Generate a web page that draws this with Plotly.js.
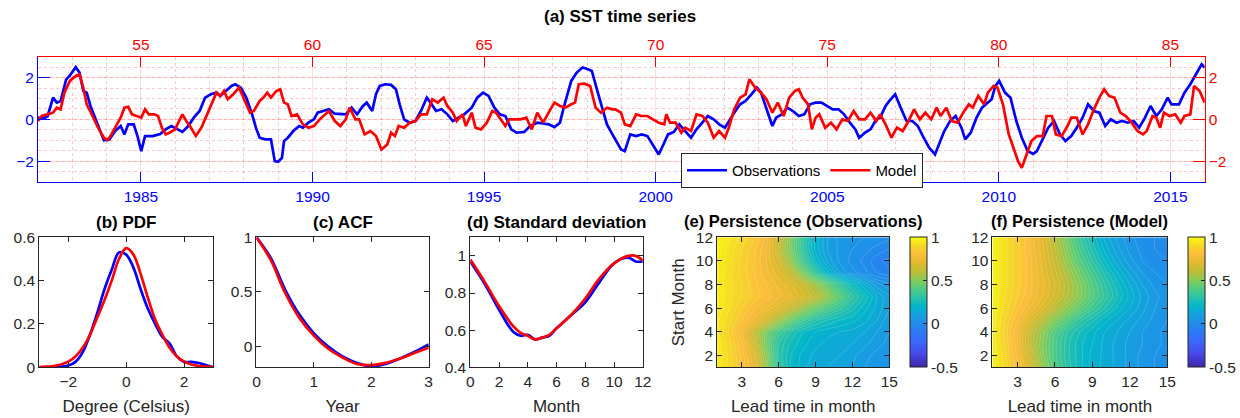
<!DOCTYPE html>
<html>
<head>
<meta charset="utf-8">
<script src="https://cdn.plot.ly/plotly-3.0.1.min.js"></script>
<style>html,body{margin:0;padding:0;background:#fff;}#chart{width:1240px;height:418px;}</style>
</head>
<body>
<div id="chart"></div>
<script>
// ---------- (a) SST time series ----------
const obsYear = [1982.00,1982.17,1982.28,1982.44,1982.55,1982.66,1982.82,1982.93,1983.10,1983.21,1983.32,1983.42,1983.53,1983.70,1983.81,1983.92,1984.08,1984.25,1984.41,1984.52,1984.63,1984.79,1984.90,1985.01,1985.12,1985.34,1985.56,1985.72,1985.89,1986.05,1986.21,1986.38,1986.54,1986.71,1986.87,1987.04,1987.20,1987.31,1987.47,1987.64,1987.75,1987.91,1988.07,1988.24,1988.35,1988.46,1988.62,1988.79,1988.90,1989.00,1989.11,1989.17,1989.28,1989.44,1989.61,1989.72,1989.88,1990.04,1990.15,1990.32,1990.48,1990.65,1990.81,1990.97,1991.14,1991.30,1991.47,1991.58,1991.74,1991.85,1991.96,1992.12,1992.29,1992.43,1992.54,1992.67,1992.83,1993.00,1993.16,1993.33,1993.44,1993.60,1993.76,1993.93,1994.09,1994.26,1994.42,1994.64,1994.80,1994.97,1995.13,1995.30,1995.46,1995.62,1995.79,1995.95,1996.17,1996.34,1996.55,1996.72,1996.88,1997.05,1997.21,1997.32,1997.43,1997.54,1997.70,1997.87,1998.03,1998.14,1998.30,1998.41,1998.58,1998.74,1998.82,1998.99,1999.10,1999.26,1999.43,1999.59,1999.76,1999.92,2000.09,2000.25,2000.36,2000.53,2000.69,2000.86,2001.03,2001.19,2001.36,2001.52,2001.69,2001.85,2002.02,2002.13,2002.29,2002.46,2002.62,2002.79,2002.95,2003.07,2003.23,2003.40,2003.51,2003.67,2003.84,2004.00,2004.17,2004.33,2004.50,2004.66,2004.83,2005.00,2005.16,2005.33,2005.49,2005.66,2005.82,2005.93,2006.10,2006.26,2006.43,2006.54,2006.70,2006.81,2006.98,2007.14,2007.31,2007.48,2007.64,2007.81,2007.97,2008.14,2008.25,2008.41,2008.58,2008.74,2008.91,2009.02,2009.18,2009.35,2009.51,2009.68,2009.79,2009.90,2010.01,2010.18,2010.34,2010.51,2010.67,2010.84,2011.00,2011.11,2011.28,2011.44,2011.61,2011.78,2011.94,2012.11,2012.27,2012.44,2012.60,2012.77,2012.93,2013.10,2013.26,2013.43,2013.59,2013.76,2013.93,2014.09,2014.26,2014.42,2014.59,2014.75,2014.92,2015.03,2015.25,2015.41,2015.58,2015.74,2015.91,2016.00];
const obsSST = [0.08,0.05,0.15,1.04,0.80,0.88,1.90,2.10,2.50,2.24,1.36,1.28,0.64,-0.08,-0.56,-1.00,-0.96,-0.56,-0.32,-0.72,-0.24,-0.24,-0.80,-1.52,-0.80,-0.80,-0.70,-0.48,-0.32,-0.48,-0.60,-0.32,0.08,0.40,1.04,1.20,1.28,1.12,1.36,1.60,1.68,1.52,1.04,0.24,-0.40,-0.88,-0.96,-0.96,-2.00,-2.03,-1.84,-1.04,-0.88,-0.56,-0.32,-0.40,-0.16,0.00,0.32,0.40,0.48,0.27,0.27,0.24,0.56,0.24,0.64,0.80,0.40,1.20,1.60,1.68,1.65,1.44,0.72,0.00,-0.16,-0.08,0.40,1.04,0.80,0.40,0.48,0.24,-0.08,0.08,0.24,0.56,1.04,1.28,1.12,0.56,0.24,0.16,-0.48,-0.64,-0.60,-0.32,-0.16,-0.20,-0.24,-0.37,-0.16,0.56,1.20,1.84,2.24,2.48,2.40,2.32,1.36,0.72,-0.24,-0.72,-0.96,-1.44,-1.52,-0.72,-0.80,-0.72,-0.80,-1.20,-1.68,-1.12,-0.72,-0.60,-0.24,-0.56,-0.88,-0.48,-0.16,0.16,0.00,-0.24,-0.40,-0.08,0.32,0.72,0.88,1.20,1.52,1.28,0.48,-0.32,0.08,0.24,0.56,0.40,0.16,0.24,0.72,0.80,0.80,0.64,0.48,0.48,0.24,-0.16,-0.48,-0.88,-0.64,-0.48,0.00,0.08,0.64,0.88,1.20,0.56,-0.08,-0.08,-0.32,-0.88,-1.36,-1.68,-1.20,-0.56,-0.08,0.16,-0.40,-0.96,-0.64,0.08,0.56,0.80,0.96,1.60,1.84,1.28,1.04,-0.08,-0.88,-1.52,-1.65,-1.52,-0.96,-0.40,-0.08,-0.72,-1.04,-0.80,-0.40,0.08,0.72,0.40,0.32,-0.32,0.00,-0.16,-0.08,-0.16,-0.08,-0.40,0.08,0.64,0.16,0.48,1.04,0.72,0.72,1.28,1.68,2.16,2.64,2.48];
const modelYear = [52.00,52.11,52.28,52.44,52.55,52.66,52.77,52.93,53.10,53.21,53.32,53.42,53.59,53.75,53.92,54.03,54.14,54.25,54.41,54.52,54.63,54.74,54.85,55.01,55.12,55.23,55.39,55.50,55.61,55.72,55.83,56.00,56.11,56.21,56.32,56.43,56.60,56.76,56.93,57.09,57.20,57.31,57.42,57.53,57.69,57.86,58.02,58.18,58.29,58.46,58.57,58.68,58.79,58.95,59.06,59.17,59.28,59.39,59.55,59.72,59.88,60.04,60.21,60.37,60.48,60.65,60.81,60.97,61.08,61.25,61.36,61.52,61.69,61.85,62.01,62.18,62.29,62.40,62.51,62.67,62.83,63.00,63.16,63.33,63.49,63.65,63.82,63.93,64.09,64.20,64.37,64.47,64.64,64.75,64.91,65.08,65.24,65.35,65.51,65.62,65.73,65.90,66.06,66.23,66.39,66.55,66.72,66.88,67.05,67.21,67.37,67.54,67.65,67.76,67.92,68.09,68.25,68.41,68.58,68.74,68.82,68.99,69.10,69.26,69.43,69.59,69.76,69.92,70.09,70.25,70.31,70.42,70.58,70.75,70.86,71.03,71.19,71.36,71.52,71.69,71.85,72.02,72.13,72.29,72.46,72.62,72.73,72.90,73.07,73.23,73.40,73.56,73.73,73.89,74.06,74.17,74.28,74.44,74.55,74.66,74.77,74.94,75.11,75.27,75.44,75.60,75.77,75.93,76.10,76.26,76.43,76.54,76.70,76.87,77.03,77.20,77.37,77.53,77.70,77.86,78.03,78.19,78.30,78.47,78.63,78.80,78.96,79.13,79.24,79.40,79.57,79.68,79.85,79.96,80.12,80.29,80.45,80.56,80.67,80.78,80.95,81.11,81.28,81.39,81.55,81.66,81.83,82.00,82.11,82.27,82.44,82.60,82.77,82.93,83.07,83.21,83.37,83.54,83.70,83.87,84.04,84.20,84.31,84.48,84.59,84.70,84.81,84.97,85.14,85.30,85.41,85.58,85.69,85.85,86.00];
const modelSST = [-0.08,0.16,0.24,0.32,0.56,0.48,1.28,1.84,2.08,2.16,1.52,0.72,0.16,-0.40,-0.88,-1.00,-0.72,-0.40,0.08,0.56,0.60,0.24,0.16,0.08,0.48,0.24,0.24,0.16,-0.40,-0.72,-0.64,-0.48,-0.08,0.24,-0.08,-0.32,-0.80,-0.40,0.24,0.88,1.28,1.12,1.36,0.96,1.20,1.52,0.88,0.32,0.40,0.88,1.04,1.28,1.04,1.36,1.44,0.80,0.72,0.16,0.24,-0.24,-0.40,-0.32,0.00,0.24,0.40,-0.08,-0.32,0.00,0.56,0.00,0.00,-0.72,-0.56,-0.80,-1.44,-1.20,-0.64,-0.80,-0.32,-0.40,-0.16,-0.08,0.24,0.24,0.96,0.80,1.04,0.64,0.32,-0.08,0.24,-0.32,0.32,-0.40,-0.48,-0.16,0.40,0.32,-0.08,-0.32,0.00,0.00,0.00,0.08,-0.48,0.32,-0.16,0.32,0.80,0.64,0.56,0.72,0.80,1.68,1.71,1.60,0.56,0.32,0.56,0.48,0.48,0.32,-0.24,-0.32,0.24,0.16,0.16,0.00,-0.16,-0.24,0.24,-0.16,-0.16,-0.64,-0.40,-0.56,0.24,0.16,-0.16,-0.88,-0.56,-0.88,-0.40,0.48,1.04,1.20,1.92,1.52,1.28,0.96,0.32,0.80,0.16,1.04,1.36,1.44,1.04,0.72,-0.48,0.08,0.24,-0.40,-0.16,-0.48,0.00,-0.08,0.40,0.00,0.00,0.32,-0.08,0.24,-0.24,-0.88,-0.40,-0.56,-0.08,0.48,0.00,0.32,0.00,0.56,0.16,0.56,-0.08,-0.16,0.32,0.72,0.56,1.12,0.72,1.28,1.60,1.52,0.72,-0.72,-1.44,-2.00,-2.32,-1.84,-1.04,-0.80,-0.80,0.16,0.16,-0.72,-0.80,-0.32,0.08,0.08,-0.72,-0.24,0.48,1.04,1.44,1.12,1.04,0.32,0.16,-0.16,-0.56,-0.72,-0.56,0.16,0.08,-0.40,0.32,0.16,0.24,-0.16,0.16,0.24,1.60,1.36,0.80];

// ---------- (b) PDF ----------
const pdfX = [-3,-2.75,-2.5,-2.25,-2,-1.75,-1.5,-1.25,-1,-0.75,-0.5,-0.25,0,0.25,0.5,0.75,1,1.25,1.5,1.75,2,2.25,2.5,2.75,3];
const pdfObs = [0.000,0.000,0.001,0.003,0.008,0.025,0.070,0.150,0.250,0.360,0.450,0.530,0.520,0.460,0.360,0.270,0.200,0.140,0.110,0.050,0.025,0.025,0.020,0.010,0.000];
const pdfModel = [0.001,0.003,0.006,0.013,0.026,0.050,0.090,0.150,0.230,0.310,0.400,0.500,0.550,0.520,0.430,0.320,0.220,0.150,0.090,0.050,0.026,0.013,0.006,0.003,0.001];

// ---------- (c) ACF ----------
const acfLag = [0,0.25,0.5,0.75,1,1.25,1.5,1.75,2,2.25,2.5,2.75,3];
const acfObs = [1.00,0.81,0.52,0.29,0.12,0.00,-0.09,-0.15,-0.18,-0.16,-0.11,-0.05,0.02];
const acfModel = [1.00,0.79,0.49,0.26,0.10,-0.02,-0.10,-0.16,-0.17,-0.15,-0.11,-0.06,-0.01];

// ---------- (d) Standard deviation ----------
const stdMonth = [0,1,2,3,3.5,4,4.5,5,5.5,6,7,8,9,10,11,11.5,12];
const stdObs = [0.97,0.85,0.71,0.59,0.57,0.575,0.55,0.56,0.57,0.61,0.68,0.75,0.86,0.96,0.99,0.97,0.97];
const stdModel = [0.98,0.86,0.73,0.62,0.585,0.57,0.55,0.56,0.575,0.61,0.68,0.77,0.88,0.96,1.00,1.00,0.975];

// ---------- (e),(f) Persistence ----------
const leadMonths = [1,2,3,4,5,6,7,8,9,10,11,12,13,14,15];
const startMonths = [1,2,3,4,5,6,7,8,9,10,11,12];
const persObs = [
  [0.96,0.90,0.82,0.72,0.52,0.32,0.22,0.17,0.14,0.13,0.12,0.10,0.07,0.05,0.04],
  [0.96,0.90,0.81,0.70,0.50,0.30,0.22,0.18,0.15,0.14,0.13,0.11,0.08,0.06,0.05],
  [0.96,0.89,0.80,0.66,0.46,0.31,0.24,0.20,0.17,0.15,0.14,0.13,0.11,0.08,0.06],
  [0.95,0.87,0.77,0.62,0.47,0.36,0.28,0.22,0.19,0.17,0.16,0.15,0.13,0.10,0.07],
  [0.95,0.89,0.82,0.75,0.66,0.55,0.44,0.35,0.29,0.25,0.22,0.20,0.17,0.13,0.08],
  [0.96,0.91,0.85,0.80,0.76,0.70,0.62,0.53,0.45,0.38,0.32,0.26,0.20,0.15,0.10],
  [0.96,0.92,0.88,0.84,0.80,0.77,0.73,0.68,0.62,0.52,0.42,0.32,0.24,0.16,0.10],
  [0.96,0.92,0.88,0.83,0.79,0.75,0.70,0.64,0.55,0.44,0.33,0.24,0.16,0.08,0.05],
  [0.96,0.92,0.87,0.82,0.77,0.71,0.62,0.48,0.33,0.20,0.10,0.05,0.02,-0.02,-0.04],
  [0.96,0.92,0.87,0.82,0.76,0.67,0.52,0.36,0.22,0.12,0.06,0.03,0.00,-0.04,-0.06],
  [0.97,0.93,0.88,0.83,0.76,0.63,0.47,0.31,0.18,0.10,0.06,0.04,0.02,0.00,-0.02],
  [0.97,0.94,0.90,0.85,0.78,0.65,0.48,0.32,0.18,0.10,0.06,0.05,0.04,0.03,0.02]
];
const persModel = [
  [0.97,0.90,0.80,0.68,0.53,0.40,0.30,0.23,0.18,0.15,0.12,0.09,0.06,0.04,0.03],
  [0.97,0.89,0.78,0.65,0.50,0.38,0.29,0.23,0.18,0.15,0.12,0.09,0.06,0.04,0.03],
  [0.96,0.88,0.76,0.62,0.49,0.38,0.29,0.23,0.19,0.15,0.12,0.09,0.07,0.05,0.03],
  [0.96,0.87,0.76,0.63,0.51,0.40,0.31,0.25,0.20,0.16,0.13,0.10,0.07,0.05,0.03],
  [0.96,0.88,0.79,0.69,0.59,0.49,0.40,0.32,0.26,0.20,0.16,0.12,0.09,0.06,0.04],
  [0.97,0.90,0.83,0.76,0.68,0.60,0.51,0.43,0.35,0.28,0.21,0.16,0.11,0.07,0.05],
  [0.97,0.91,0.85,0.79,0.73,0.66,0.58,0.50,0.41,0.33,0.25,0.18,0.12,0.08,0.05],
  [0.97,0.92,0.86,0.80,0.74,0.67,0.59,0.50,0.40,0.31,0.23,0.16,0.10,0.06,0.04],
  [0.97,0.92,0.86,0.80,0.73,0.65,0.56,0.46,0.36,0.27,0.19,0.12,0.07,0.04,0.02],
  [0.97,0.92,0.86,0.80,0.72,0.63,0.52,0.41,0.31,0.22,0.14,0.08,0.04,0.02,0.01],
  [0.97,0.92,0.86,0.79,0.71,0.61,0.49,0.37,0.27,0.18,0.11,0.06,0.03,0.01,0.00],
  [0.97,0.92,0.86,0.79,0.70,0.59,0.46,0.34,0.24,0.15,0.09,0.05,0.02,0.01,0.00]
];

// ---------- styling ----------
const FONT = 'Liberation Sans, Arial, Helvetica, sans-serif';
const DARK = '#262626';
const BLUE = '#0000ff';
const RED = '#ff0000';
const parula = [
  [0.00,'rgb(62,38,168)'],[0.10,'rgb(71,72,232)'],[0.20,'rgb(58,105,252)'],
  [0.27,'rgb(44,122,246)'],[0.333,'rgb(34,139,236)'],[0.40,'rgb(22,160,224)'],
  [0.47,'rgb(4,182,202)'],[0.53,'rgb(40,193,170)'],[0.60,'rgb(80,203,130)'],
  [0.67,'rgb(135,203,87)'],[0.73,'rgb(187,190,56)'],[0.80,'rgb(225,185,45)'],
  [0.87,'rgb(252,190,60)'],[0.93,'rgb(245,215,40)'],[1.00,'rgb(249,251,14)']
];
const W = 1240, H = 418;
const px = v => v / W;
const py = v => 1 - v / H;

function lineTrace(x, y, xa, ya, color, name, show) {
  return {type:'scatter', mode:'lines', x:x, y:y, xaxis:xa, yaxis:ya, name:name,
          showlegend:!!show, line:{color:color, width:2.7}, hoverinfo:'skip'};
}
function heatTrace(z, xa, ya, cbx) {
  return {type:'heatmap', x:leadMonths, y:startMonths, z:z, xaxis:xa, yaxis:ya, zsmooth:'best',
    colorscale:parula, zmin:-0.5, zmax:1, zauto:false, showlegend:false,
    colorbar:{x:px(cbx), xanchor:'left', xpad:0, y:py(302.3), yanchor:'middle', ypad:0,
      len:130, lenmode:'pixels', thickness:17, thicknessmode:'pixels',
      outlinecolor:DARK, outlinewidth:1, tickvals:[-0.5,0,0.5,1], ticktext:['-0.5','0','0.5','1'],
      ticks:'inside', ticklen:4, tickcolor:DARK, tickfont:{family:FONT, size:15.5, color:DARK}},
    hoverinfo:'skip'};
}
function isoTrace(z, xa, ya) {
  return {type:'contour', x:leadMonths, y:startMonths, z:z, xaxis:xa, yaxis:ya, showscale:false,
    showlegend:false, contours:{start:-0.5, end:1, size:0.03, coloring:'none'},
    line:{color:'rgba(255,255,255,0.28)', width:0.6, smoothing:0.6}, hoverinfo:'skip'};
}

const yB = [py(367.3), py(237.3)];
function smallX(dom, range, tickvals, title) {
  return {domain:dom, range:range, tickvals:tickvals, ticks:'inside', ticklen:5, tickcolor:DARK,
    showline:true, linecolor:DARK, linewidth:1, mirror:'ticks', showgrid:false, zeroline:false,
    tickfont:{family:FONT, size:15.5, color:DARK},
    title:{text:title, font:{family:FONT, size:17, color:DARK}, standoff:11}};
}
function smallY(anchor, range, tickvals, ticktext, title) {
  const o = {domain:yB, anchor:anchor, range:range, tickvals:tickvals, ticks:'inside', ticklen:5, tickcolor:DARK,
    showline:true, linecolor:DARK, linewidth:1, mirror:'ticks', showgrid:false, zeroline:false,
    tickfont:{family:FONT, size:15.5, color:DARK}};
  if (ticktext) o.ticktext = ticktext;
  if (title) o.title = {text:title, font:{family:FONT, size:17, color:DARK}, standoff:6};
  return o;
}

const data = [
  lineTrace(obsYear, obsSST, 'x', 'y', BLUE, 'Observations', true),
  lineTrace(modelYear, modelSST, 'x2', 'y2', RED, 'Model', true),
  lineTrace(pdfX, pdfObs, 'x3', 'y3', BLUE, 'Observations', false),
  lineTrace(pdfX, pdfModel, 'x3', 'y3', RED, 'Model', false),
  lineTrace(acfLag, acfObs, 'x4', 'y4', BLUE, 'Observations', false),
  lineTrace(acfLag, acfModel, 'x4', 'y4', RED, 'Model', false),
  lineTrace(stdMonth, stdObs, 'x5', 'y5', BLUE, 'Observations', false),
  lineTrace(stdMonth, stdModel, 'x5', 'y5', RED, 'Model', false),
  heatTrace(persObs, 'x6', 'y6', 910),
  isoTrace(persObs, 'x6', 'y6'),
  heatTrace(persModel, 'x7', 'y7', 1187.7),
  isoTrace(persModel, 'x7', 'y7')
];
[2,3,4,5,6,7].forEach(i => { data[i].line.shape = 'spline'; });

const topDomX = [px(38), px(1205.7)];
const topDomY = [py(182), py(56.7)];
const layout = {
  width:W, height:H, margin:{l:0, r:0, t:0, b:0}, paper_bgcolor:'#fff', plot_bgcolor:'rgba(0,0,0,0)',
  font:{family:FONT, color:DARK},
  showlegend:true,
  legend:{orientation:'h', x:px(681), y:py(153), xanchor:'left', yanchor:'top',
    bgcolor:'#fff', bordercolor:DARK, borderwidth:1, font:{family:FONT, size:15, color:'#000'},
    itemwidth:40, tracegroupgap:0},
  xaxis:{domain:topDomX, anchor:'y', range:[1982, 2016], tick0:1985, dtick:5, ticks:'inside', ticklen:10,
    tickcolor:BLUE, showline:true, linecolor:BLUE, linewidth:1, showgrid:false, zeroline:false,
    tickfont:{family:FONT, size:15.5, color:BLUE}},
  xaxis2:{overlaying:'x', anchor:'y', side:'top', range:[52, 86], tick0:55, dtick:5, ticks:'inside', ticklen:10,
    tickcolor:RED, showline:true, linecolor:RED, linewidth:1, zeroline:false,
    showgrid:true, gridcolor:'rgba(255,0,0,0.13)', gridwidth:1,
    minor:{dtick:1, showgrid:true, gridcolor:'rgba(255,0,0,0.22)', griddash:'dot', gridwidth:1},
    tickfont:{family:FONT, size:15.5, color:RED}},
  yaxis:{domain:topDomY, anchor:'x', range:[-3, 3], tickvals:[-2,0,2], ticks:'inside', ticklen:12,
    tickcolor:BLUE, showline:true, linecolor:BLUE, linewidth:1, showgrid:false, zeroline:false,
    tickfont:{family:FONT, size:15.5, color:BLUE}},
  yaxis2:{overlaying:'y', anchor:'x', side:'right', range:[-3, 3], tickvals:[-2,0,2], ticks:'inside', ticklen:12,
    tickcolor:RED, showline:true, linecolor:RED, linewidth:1, zeroline:false,
    showgrid:true, gridcolor:'rgba(255,0,0,0.13)', gridwidth:1,
    minor:{dtick:0.5, showgrid:true, gridcolor:'rgba(255,0,0,0.22)', griddash:'dot', gridwidth:1},
    tickfont:{family:FONT, size:15.5, color:RED}},
  xaxis3:Object.assign(smallX([px(39.3), px(213.3)], [-3, 3], [-2, 0, 2], 'Degree (Celsius)'), {anchor:'y3'}),
  yaxis3:smallY('x3', [0, 0.6], [0, 0.2, 0.4, 0.6], ['0','0.2','0.4','0.6']),
  xaxis4:Object.assign(smallX([px(256.7), px(429)], [0, 3], [0, 1, 2, 3], 'Year'), {anchor:'y4'}),
  yaxis4:smallY('x4', [-0.19, 1], [0, 0.5, 1], ['0','0.5','1']),
  xaxis5:Object.assign(smallX([px(470.7), px(643.3)], [0, 12], [0, 2, 4, 6, 8, 10, 12], 'Month'), {anchor:'y5'}),
  yaxis5:smallY('x5', [0.4, 1.1], [0.4, 0.6, 0.8, 1], ['0.4','0.6','0.8','1']),
  xaxis6:Object.assign(smallX([px(717.7), px(890)], [1, 15], [3, 6, 9, 12, 15], 'Lead time in month'), {anchor:'y6'}),
  yaxis6:smallY('x6', [1, 12], [2, 4, 6, 8, 10, 12], null, 'Start Month'),
  xaxis7:Object.assign(smallX([px(993.3), px(1168.3)], [1, 15], [3, 6, 9, 12, 15], 'Lead time in month'), {anchor:'y7'}),
  yaxis7:smallY('x7', [1, 12], [2, 4, 6, 8, 10, 12], null, null),
  annotations:[
    {text:'<b>(a) SST time series</b>', x:0.5, y:py(16.5)},
    {text:'<b>(b) PDF</b>', x:px(126.3), y:py(222)},
    {text:'<b>(c) ACF</b>', x:px(342.9), y:py(222)},
    {text:'<b>(d) Standard deviation</b>', x:px(557), y:py(222)},
    {text:'<b>(e) Persistence (Observations)</b>', x:px(803.9), y:py(221)},
    {text:'<b>(f) Persistence (Model)</b>', x:px(1080.8), y:py(221)}
  ].map(a => Object.assign(a, {xref:'paper', yref:'paper', xanchor:'center', yanchor:'middle',
    showarrow:false, font:{family:FONT, size:17, color:'#000'}}))
};
layout.annotations[4].font = {family:FONT, size:16.5, color:'#000'};
layout.annotations[5].font = {family:FONT, size:16.5, color:'#000'};

Plotly.newPlot('chart', data, layout, {displayModeBar:false, staticPlot:true});
</script>
</body>
</html>
